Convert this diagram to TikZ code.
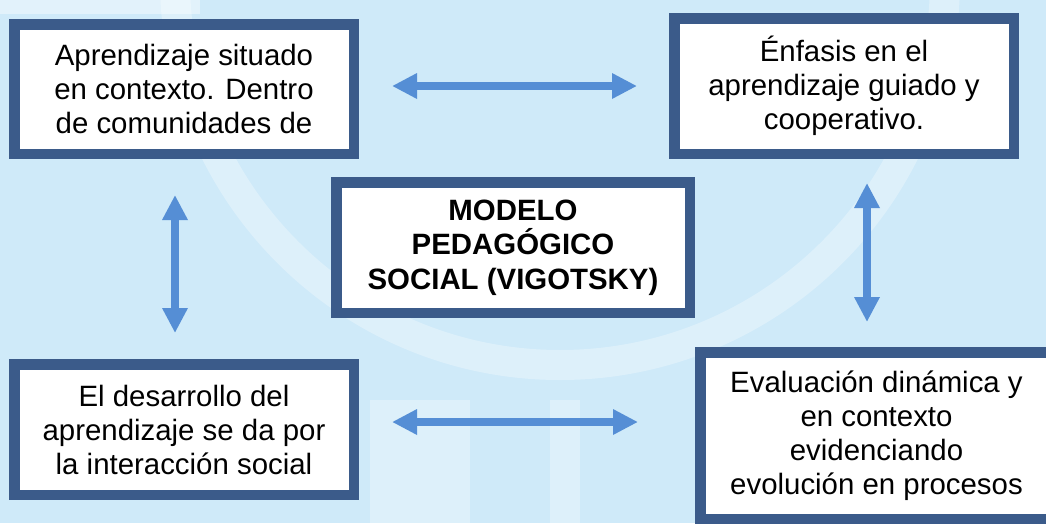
\documentclass[tikz,border=0pt]{standalone}
\usepackage{fontspec}
\setmainfont{Liberation Sans}
\usetikzlibrary{arrows.meta}
\definecolor{borde}{RGB}{59,91,138}
\definecolor{flechaazul}{RGB}{85,142,213}
\definecolor{fondo}{RGB}{207,234,249}

\begin{document}
\begin{tikzpicture}[x=1pt,y=-1pt,box_node/.style={rectangle,draw=borde,line width=10.5pt,fill=white,align=center,inner sep=0pt,font=\fontsize{29.4}{34}\selectfont},center_node/.style={box_node,font=\fontsize{29.4}{34.5}\selectfont\bfseries},arrow_line/.style={draw=flechaazul,line width=8.5pt,{Triangle[length=25pt,width=24pt]}-{Triangle[length=25pt,width=24pt]}}]
		
		\useasboundingbox (0,0) rectangle (1046,523);
		\clip (0,0) rectangle (1046,523);
		
		% fondo con marca de agua
		\fill[fondo] (0,0) rectangle (1046,523);
		\draw[white,opacity=0.3,line width=30pt] (560,-20) circle (385pt);
		\fill[white,opacity=0.4] (0,0) rectangle (200,14);
		\fill[white,opacity=0.3] (370,400) rectangle (470,523);
		\fill[white,opacity=0.3] (550,400) rectangle (580,523);
		
		\node[box_node,minimum width=339.5,minimum height=129.5] (contexto) at (184,89) {Aprendizaje situado\\en contexto. Dentro\\de comunidades de};
		\node[box_node,minimum width=339.5,minimum height=135.5] (guiado) at (844,86) {Énfasis en el\\aprendizaje guiado y\\cooperativo.};
		\node[center_node,minimum width=353.5,minimum height=130.5] (modelo) at (513,247.5) {MODELO\\PEDAGÓGICO\\SOCIAL (VIGOTSKY)};
		\node[box_node,minimum width=339.5,minimum height=130.5] (interaccion) at (184,429.5) {El desarrollo del\\aprendizaje se da por\\la interacción social};
		\node[box_node,minimum width=352.5,minimum height=166.5] (evaluacion) at (876.5,435.5) {Evaluación dinámica y\\en contexto\\evidenciando\\evolución en procesos};
		
		\draw[arrow_line,shorten <=33pt,shorten >=32pt] (contexto.east |- guiado.west) -- (guiado.west);
		\draw[arrow_line,shorten <=33pt,shorten >=57pt] ([yshift=7.5pt]interaccion.east) -- ([yshift=7.5pt]interaccion.east -| evaluacion.west);
		\draw[arrow_line,shorten <=36pt,shorten >=26pt] ([xshift=-9pt]contexto.south) -- ([xshift=-9pt]interaccion.north);
		\draw[arrow_line,shorten <=24pt,shorten >=25pt] ([xshift=23pt]guiado.south) -- ([xshift=23pt]guiado.south |- evaluacion.north);
		\end{tikzpicture}
\end{document}
